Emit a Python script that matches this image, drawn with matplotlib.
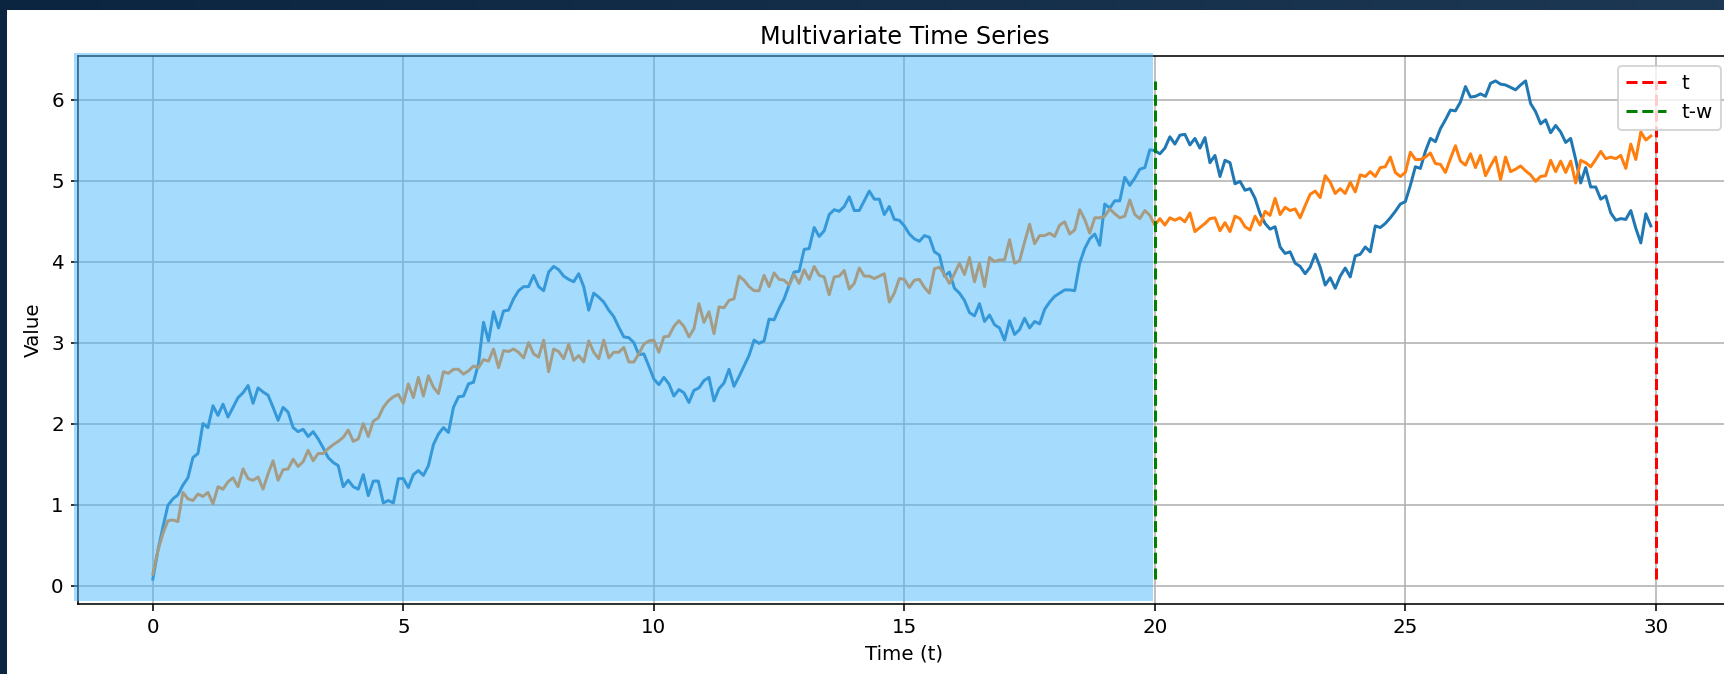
import numpy as np
import matplotlib
matplotlib.use("Agg")
import matplotlib.pyplot as plt
from matplotlib.patches import Rectangle
from matplotlib.colors import LinearSegmentedColormap

# ━━━━━━━━━━━━━━━━━━━━━━━━━━━━━━━━━━━━━━━━━━━━━━━━━━
# Data (one value per 0.1 time step)
# ━━━━━━━━━━━━━━━━━━━━━━━━━━━━━━━━━━━━━━━━━━━━━━━━━━
series_1 = [
    0.08, 0.43, 0.72, 0.99, 1.07, 1.12, 1.24, 1.33, 1.58, 1.63,
    2.00, 1.95, 2.22, 2.10, 2.24, 2.08, 2.20, 2.32, 2.38, 2.47,
    2.25, 2.44, 2.39, 2.35, 2.20, 2.04, 2.20, 2.14, 1.95, 1.90,
    1.93, 1.84, 1.90, 1.81, 1.70, 1.58, 1.52, 1.48, 1.22, 1.30,
    1.22, 1.19, 1.37, 1.11, 1.29, 1.29, 1.02, 1.05, 1.02, 1.32,
    1.32, 1.21, 1.37, 1.42, 1.36, 1.48, 1.74, 1.87, 1.95, 1.89,
    2.20, 2.33, 2.34, 2.49, 2.51, 2.74, 3.25, 3.02, 3.38, 3.18,
    3.39, 3.40, 3.54, 3.64, 3.69, 3.69, 3.83, 3.69, 3.64, 3.87,
    3.94, 3.90, 3.82, 3.78, 3.75, 3.85, 3.69, 3.40, 3.61, 3.56,
    3.50, 3.40, 3.32, 3.19, 3.07, 3.06, 3.00, 2.85, 2.86, 2.71,
    2.55, 2.48, 2.57, 2.49, 2.34, 2.42, 2.38, 2.26, 2.41, 2.44,
    2.53, 2.57, 2.28, 2.43, 2.50, 2.67, 2.46, 2.58, 2.71, 2.84,
    3.03, 2.99, 3.02, 3.29, 3.28, 3.42, 3.54, 3.71, 3.87, 3.88,
    4.15, 4.16, 4.42, 4.31, 4.38, 4.58, 4.64, 4.62, 4.68, 4.80,
    4.63, 4.63, 4.75, 4.87, 4.77, 4.77, 4.58, 4.68, 4.52, 4.51,
    4.44, 4.34, 4.28, 4.25, 4.32, 4.30, 4.12, 4.08, 3.82, 3.87,
    3.67, 3.61, 3.52, 3.37, 3.33, 3.48, 3.26, 3.34, 3.22, 3.18,
    3.03, 3.27, 3.10, 3.16, 3.30, 3.18, 3.26, 3.23, 3.41, 3.50,
    3.57, 3.61, 3.65, 3.65, 3.64, 3.98, 4.16, 4.28, 4.34, 4.20,
    4.71, 4.66, 4.75, 4.75, 5.04, 4.94, 5.03, 5.14, 5.16, 5.38,
    5.37, 5.33, 5.40, 5.54, 5.45, 5.56, 5.57, 5.44, 5.52, 5.40,
    5.53, 5.22, 5.31, 5.05, 5.25, 5.22, 4.96, 4.99, 4.88, 4.90,
    4.78, 4.59, 4.47, 4.40, 4.43, 4.18, 4.10, 4.12, 3.98, 3.94,
    3.85, 3.93, 4.09, 3.93, 3.71, 3.80, 3.67, 3.82, 3.92, 3.81,
    4.07, 4.09, 4.18, 4.12, 4.44, 4.42, 4.47, 4.54, 4.62, 4.71,
    4.74, 4.94, 5.17, 5.15, 5.36, 5.52, 5.48, 5.64, 5.75, 5.87,
    5.86, 5.97, 6.16, 6.03, 6.04, 6.07, 6.04, 6.20, 6.23, 6.19,
    6.18, 6.15, 6.12, 6.18, 6.23, 5.95, 5.85, 5.70, 5.75, 5.59,
    5.68, 5.60, 5.47, 5.52, 5.26, 4.97, 5.16, 4.92, 4.92, 4.77,
    4.81, 4.60, 4.51, 4.53, 4.52, 4.63, 4.41, 4.23, 4.59, 4.44,
]

series_2 = [
    0.14, 0.43, 0.64, 0.80, 0.81, 0.79, 1.15, 1.07, 1.05, 1.13,
    1.10, 1.15, 1.01, 1.22, 1.19, 1.28, 1.33, 1.22, 1.44, 1.32,
    1.30, 1.34, 1.19, 1.38, 1.54, 1.30, 1.43, 1.44, 1.56, 1.47,
    1.53, 1.67, 1.54, 1.63, 1.63, 1.69, 1.74, 1.78, 1.83, 1.92,
    1.78, 1.81, 2.00, 1.84, 2.03, 2.07, 2.20, 2.28, 2.33, 2.36,
    2.25, 2.49, 2.32, 2.57, 2.34, 2.59, 2.45, 2.37, 2.64, 2.62,
    2.67, 2.67, 2.61, 2.65, 2.71, 2.69, 2.79, 2.77, 2.92, 2.69,
    2.90, 2.89, 2.92, 2.88, 2.81, 3.00, 2.86, 2.82, 3.03, 2.64,
    2.92, 2.89, 2.80, 2.98, 2.78, 2.84, 2.76, 3.02, 2.88, 2.80,
    3.03, 2.81, 2.88, 2.88, 2.94, 2.76, 2.76, 2.86, 2.98, 3.02,
    3.03, 2.88, 3.07, 3.08, 3.20, 3.27, 3.20, 3.07, 3.17, 3.48,
    3.25, 3.38, 3.11, 3.44, 3.43, 3.52, 3.54, 3.82, 3.77, 3.69,
    3.64, 3.64, 3.83, 3.69, 3.86, 3.78, 3.77, 3.71, 3.84, 3.73,
    3.90, 3.78, 3.94, 3.83, 3.81, 3.59, 3.81, 3.82, 3.89, 3.66,
    3.73, 3.92, 3.82, 3.82, 3.79, 3.82, 3.85, 3.50, 3.61, 3.79,
    3.78, 3.68, 3.77, 3.78, 3.68, 3.61, 3.91, 3.93, 3.84, 3.73,
    3.85, 3.98, 3.84, 4.05, 3.75, 3.98, 3.69, 4.05, 4.00, 4.02,
    4.02, 4.27, 3.98, 4.01, 4.24, 4.46, 4.22, 4.32, 4.32, 4.35,
    4.31, 4.45, 4.49, 4.34, 4.39, 4.64, 4.52, 4.35, 4.54, 4.54,
    4.56, 4.65, 4.59, 4.54, 4.56, 4.76, 4.58, 4.53, 4.63, 4.57,
    4.45, 4.53, 4.45, 4.54, 4.51, 4.54, 4.49, 4.60, 4.37, 4.42,
    4.47, 4.53, 4.54, 4.38, 4.48, 4.37, 4.56, 4.53, 4.43, 4.39,
    4.56, 4.45, 4.62, 4.57, 4.78, 4.58, 4.67, 4.63, 4.65, 4.54,
    4.69, 4.83, 4.87, 4.79, 5.06, 4.98, 4.84, 4.90, 4.84, 4.98,
    4.86, 5.07, 5.05, 5.11, 5.05, 5.16, 5.17, 5.29, 5.10, 5.05,
    5.10, 5.35, 5.26, 5.26, 5.29, 5.34, 5.21, 5.20, 5.10, 5.27,
    5.43, 5.24, 5.19, 5.33, 5.16, 5.31, 5.06, 5.18, 5.29, 5.01,
    5.29, 5.11, 5.14, 5.18, 5.12, 5.07, 4.99, 5.05, 5.06, 5.25,
    5.11, 5.24, 5.10, 5.24, 4.97, 5.25, 5.22, 5.17, 5.26, 5.36,
    5.27, 5.29, 5.27, 5.31, 5.15, 5.45, 5.26, 5.60, 5.50, 5.55,
]

time_step = 0.1
t_now = 30      # "t"
t_window = 20   # "t-w"

# ━━━━━━━━━━━━━━━━━━━━━━━━━━━━━━━━━━━━━━━━━━━━━━━━━━
# Plot
# ━━━━━━━━━━━━━━━━━━━━━━━━━━━━━━━━━━━━━━━━━━━━━━━━━━
DPI = 143


def create_plot():
    fig = plt.figure(figsize=(1724 / DPI, 674 / DPI), dpi=DPI)

    # dark frame of the screenshot, white canvas inside it
    bg = fig.add_axes([0, 0, 1, 1], zorder=-5)
    bg.set_axis_off()
    frame_cmap = LinearSegmentedColormap.from_list("frame", ["#0b2440", "#1d3853"])
    bg.imshow(np.linspace(0, 1, 256)[None, :], cmap=frame_cmap, aspect="auto",
              extent=[0, 1, 0, 1], transform=bg.transAxes)
    bg.add_patch(Rectangle((8 / 1724, 0), 1, 1 - 11 / 674,
                           transform=bg.transAxes, color="white"))
    bg.set_xlim(0, 1)
    bg.set_ylim(0, 1)

    ax = fig.add_axes([0.04507, 0.10386, 0.95899, 0.81306])

    t = np.arange(len(series_1)) * time_step
    ax.plot(t, series_1)
    ax.plot(t, series_2)

    lo = min(min(series_1), min(series_2))
    hi = max(max(series_1), max(series_2))
    ax.vlines(t_now, lo, hi, colors="r", linestyles="--", label="t")
    ax.vlines(t_window, lo, hi, colors="g", linestyles="--", label="t-w")

    ax.set_title("Multivariate Time Series")
    ax.set_xlabel("Time (t)")
    ax.set_ylabel("Value")
    ax.grid(True)
    ax.legend(loc="upper right")

    # translucent selection highlight over the past window
    fig.add_artist(Rectangle((-1.577, -0.194), t_window - 0.035 + 1.577, 6.771,
                             transform=ax.transData, facecolor="#4cb9fd",
                             edgecolor="none", alpha=0.5, zorder=10))
    return fig


def main():
    fig = create_plot()
    fig.savefig("out.png", dpi=DPI)


if __name__ == "__main__":
    main()
